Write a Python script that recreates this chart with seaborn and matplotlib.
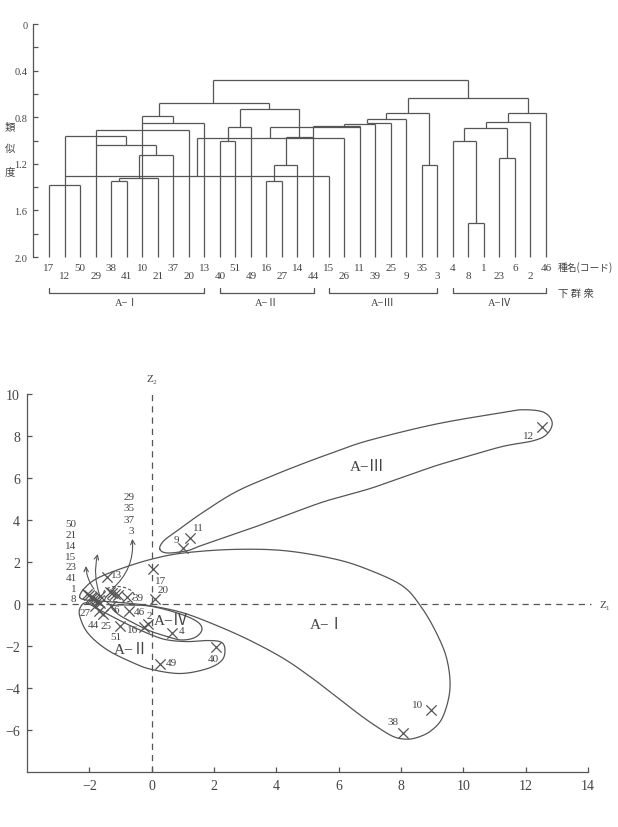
import numpy as np
import pandas as pd
import seaborn as sns
import matplotlib.pyplot as plt
from matplotlib.patches import Ellipse

# ---- dendrogram data (leaf order left to right) ----
leaf_codes = [17, 12, 50, 29, 38, 41, 10, 21, 37, 20, 13,
              40, 51, 49, 16, 27, 14, 44,
              15, 26, 11, 39, 25, 9, 35, 3,
              4, 8, 1, 23, 6, 2, 46]
# height where each leaf stem stops
leaf_top = [1.38, 0.961, 1.38, 0.913, 1.35, 1.35, 0.79, 1.322, 1.121, 0.913, 0.853,
            1.007, 1.007, 0.887, 1.35, 1.35, 1.21, 0.878,
            1.305, 0.981, 0.878, 0.86, 0.852, 0.815, 1.21, 1.21,
            1.007, 1.711, 1.711, 1.147, 1.147, 0.841, 0.764]
# horizontal links: height, from, to (leaf index units)
link_y = [1.38, 0.961, 1.036, 1.35, 1.322, 1.121, 0.913, 0.853, 0.79, 0.675,
          1.305, 0.979, 1.007, 0.887, 0.732, 1.35, 1.21, 0.967, 0.887, 0.878,
          0.86, 0.852, 0.815, 0.764, 1.21, 0.638, 0.481, 1.007, 1.711, 1.147,
          0.893, 0.841, 0.764]
link_x0 = [0, 1, 3, 4, 4.5, 5.82, 3, 6, 6, 7.07,
           1, 9.51, 11, 11.5, 12.28, 14, 14.5, 15.28, 14.25, 17,
           19, 20.45, 20.45, 21.7, 24, 23.1, 10.54, 26, 27, 29,
           26.74, 28.12, 29.58]
link_x1 = [2, 4.98, 6.91, 5, 7, 8, 9, 10, 8, 14.19,
           18, 19, 12, 13, 16.12, 15, 16, 17, 20, 20,
           21, 22, 23, 24.5, 25, 30.82, 26.96, 27.52, 28, 30,
           29.5, 31, 32]
# internal vertical stems: position, lower end, upper end
stem_x = [4.5, 5.82, 6.91, 4.98, 8.0, 7.07, 9.51, 11.5, 12.28, 14.5, 15.28, 16.12,
          14.19, 14.25, 19, 20.45, 21.7, 24.5, 23.1, 30.82, 26.96, 10.54,
          27.52, 29.5, 26.74, 28.12, 29.58]
stem_lo = [1.35, 1.322, 1.121, 1.036, 0.853, 0.79, 1.305, 1.007, 0.887, 1.35, 1.21, 0.967,
           0.732, 0.979, 0.878, 0.852, 0.815, 1.21, 0.764, 0.764, 0.638, 0.675,
           1.711, 1.147, 1.007, 0.893, 0.841]
stem_hi = [1.322, 1.121, 1.036, 0.961, 0.79, 0.675, 0.979, 0.887, 0.732, 1.21, 0.967, 0.732,
           0.675, 0.887, 0.86, 0.815, 0.764, 0.764, 0.638, 0.638, 0.481, 0.481,
           1.007, 0.893, 0.893, 0.841, 0.764]

group_names = ['A−Ⅰ', 'A−Ⅱ', 'A−Ⅲ', 'A−Ⅳ']
group_start = [0, 11, 18, 26]
group_end = [10, 17.05, 25, 32]

# ---- ordination scores ----
codes = ['12', '11', '9', '17', '20', '38', '10', '40', '49', '4', '2', '16',
         '13', '39', '46', '6', '25', '51', '27', '44', '26',
         '50', '21', '14', '15', '23', '41', '1', '8',
         '29', '35', '37', '3']
z1 = [12.54, 1.23, 1.0, 0.05, 0.1, 8.05, 8.97, 2.07, 0.26, 0.64, -0.12, -0.25,
      -1.44, -0.78, -0.74, -1.31, -1.55, -1.01, -1.82, -1.69, -1.66,
      -2.08, -2.01, -1.95, -1.9, -1.85, -1.79, -1.73, -1.66,
      -1.35, -1.26, -1.17, -1.08]
z2 = [8.44, 3.13, 2.68, 1.67, 0.24, -6.14, -5.05, -2.05, -2.86, -1.38, -0.95, -1.1,
      1.27, 0.32, -0.35, -0.08, -0.48, -1.03, -0.08, -0.33, 0.38,
      0.48, 0.41, 0.35, 0.3, 0.25, 0.19, 0.13, 0.06,
      0.56, 0.51, 0.46, 0.42]
# label offsets (points) for the singly labelled species
label_off = {'12': (-10, -6), '11': (6, 8), '9': (-5, 6), '17': (5, -8), '20': (6, 7),
             '38': (-7, 8), '10': (-10, 4), '40': (-2, -8), '49': (8, 1), '4': (7, 2),
             '2': (1, 6), '16': (-8, -2), '13': (7, 2), '39': (8, 0), '46': (8, 0),
             '6': (4, -3), '25': (2, -8), '51': (-3, -8), '27': (-7, -5), '44': (-4, -10)}
stack_a = ['50', '21', '14', '15', '23', '41', '1', '8']
stack_b = ['29', '35', '37', '3']

# group outlines (Z1, Z2), traced round each enclosure
outline_I = [(-2.31, 0.33), (-2.18, 0.71), (-1.79, 1.19), (-1.01, 1.67), (0.01, 2.14),
             (1.03, 2.43), (2.64, 2.60), (4.26, 2.54), (5.88, 2.14), (6.98, 1.62),
             (8.05, 0.86), (8.63, -0.10), (9.12, -1.33), (9.47, -2.62), (9.57, -4.05),
             (9.34, -5.38), (8.95, -6.05), (8.47, -6.38), (8.08, -6.43), (7.72, -6.29),
             (7.24, -5.86), (6.69, -5.29), (5.94, -4.43), (5.14, -3.52), (4.26, -2.62),
             (3.19, -1.76), (2.13, -1.05), (1.03, -0.43), (0.02, -0.10), (-0.85, 0.05),
             (-1.66, 0.14), (-2.11, 0.19)]
outline_II = [(-2.09, 0.05), (-1.66, -0.29), (-0.80, -0.95), (0.01, -1.48), (0.50, -1.71),
              (1.15, -1.79), (1.79, -1.74), (2.22, -1.81), (2.35, -2.14), (2.26, -2.67),
              (1.80, -3.07), (0.93, -3.31), (0.01, -3.12), (-0.58, -2.81), (-1.44, -2.17),
              (-2.05, -1.38), (-2.31, -0.57), (-2.28, -0.14)]
outline_III = [(0.26, 2.62), (0.39, 3.01), (0.82, 3.49), (1.58, 4.30), (2.65, 5.30),
               (3.73, 6.02), (4.81, 6.66), (5.89, 7.25), (6.97, 7.79), (9.13, 8.57),
               (11.28, 9.12), (11.93, 9.25), (12.58, 9.13), (12.85, 8.65), (12.69, 8.10),
               (12.26, 7.78), (11.28, 7.51), (10.21, 7.06), (9.13, 6.59), (8.05, 6.03),
               (6.97, 5.48), (5.46, 4.84), (3.73, 3.89), (2.65, 3.33), (1.58, 2.78),
               (1.15, 2.54), (0.50, 2.43)]
outline_IV = [(-1.27, -0.10), (-0.69, -0.05), (0.02, -0.12), (0.93, -0.48), (1.48, -0.86),
              (1.61, -1.24), (1.38, -1.60), (0.93, -1.71), (0.44, -1.52), (-0.04, -1.29),
              (-0.59, -0.90), (-1.08, -0.48)]


def smooth_closed(pts, n=24):
    p = np.asarray(pts, dtype=float)
    p0, p1, p2, p3 = np.roll(p, 1, 0), p, np.roll(p, -1, 0), np.roll(p, -2, 0)
    t = np.linspace(0, 1, n, endpoint=False)[:, None, None]
    c = 0.5 * (2 * p1 + (p2 - p0) * t + (2 * p0 - 5 * p1 + 4 * p2 - p3) * t ** 2
               + (3 * p1 - p0 - 3 * p2 + p3) * t ** 3)
    c = c.transpose(1, 0, 2).reshape(-1, 2)
    return np.vstack([c, c[:1]])


sns.set_theme(style='white')
plt.rcParams['font.family'] = ['Liberation Serif', 'Noto Sans CJK JP', 'DejaVu Serif']
plt.rcParams['axes.unicode_minus'] = True
ink = '#555555'
txt = '#444444'
cjk = ['Noto Sans CJK JP', 'DejaVu Sans']

fig = plt.figure(figsize=(6.18, 8.28), dpi=100)

# ================= dendrogram =================
ax1 = fig.add_axes([33 / 618, 1 - 258 / 828, 567 / 618, 233 / 828])
n = len(leaf_codes)
idx = np.arange(n)
ax1.vlines(idx, leaf_top, 2.0, color=ink, lw=0.9, clip_on=False)
ax1.hlines(link_y, link_x0, link_x1, color=ink, lw=0.9, clip_on=False)
ax1.vlines(stem_x, stem_lo, stem_hi, color=ink, lw=0.9, clip_on=False)
ax1.set_xlim(-1.03, 35.48)
ax1.set_ylim(2.0, 0)
for s in ['top', 'right', 'bottom']:
    ax1.spines[s].set_visible(False)
ax1.spines['left'].set_color(ink)
ax1.spines['left'].set_linewidth(0.9)
ax1.set_yticks([0, 0.4, 0.8, 1.2, 1.6, 2.0])
ax1.set_yticklabels(['0', '0.4', '0.8', '1.2', '1.6', '2.0'])
ax1.set_yticks([0.2, 0.6, 1.0, 1.4, 1.8], minor=True)
ax1.tick_params(axis='y', which='both', direction='in', length=3.5, width=0.9,
                color=ink, labelcolor=txt, labelsize=7.5, pad=4, left=True)
ax1.set_xticks([])
for i, c in enumerate(leaf_codes):
    ax1.text(i, 2.086 if i % 2 == 0 else 2.163, str(c), ha='center', va='center',
             fontsize=8, color=txt, clip_on=False)
for g, a, b in zip(group_names, group_start, group_end):
    ax1.plot([a, a, b, b], [2.266, 2.309, 2.309, 2.266], color=ink, lw=0.9, clip_on=False)
    ax1.text((a + b) / 2, 2.39, g, ha='center', va='center', fontsize=7.5, color=txt)
ax1.text(32.75, 2.086, '種名(コード)', ha='left', va='center', fontsize=7, color=txt,
         family=cjk)
ax1.text(32.8, 2.309, '下 群 衆', ha='left', va='center', fontsize=7.5, color=txt,
         family=cjk)
for ch, py in zip('類似度', [127, 149, 172]):
    fig.text(10 / 618, 1 - py / 828, ch, ha='center', va='center', fontsize=7.5,
             color=txt, family=cjk)

# ================= ordination =================
ax2 = fig.add_axes([27 / 618, 1 - 773 / 828, 561 / 618, 378 / 828])
df = pd.DataFrame({'code': codes, 'Z1': z1, 'Z2': z2})
sns.scatterplot(data=df, x='Z1', y='Z2', marker='x', s=55, color=ink, linewidth=0.9,
                ax=ax2, zorder=3, legend=False)
ax2.set_xlim(-4, 14)
ax2.set_ylim(-8, 10)
ax2.set_xlabel('')
ax2.set_ylabel('')
for s in ['top', 'right']:
    ax2.spines[s].set_visible(False)
for s in ['left', 'bottom']:
    ax2.spines[s].set_color(ink)
    ax2.spines[s].set_linewidth(0.9)
ax2.set_xticks(np.arange(-2, 15, 2))
ax2.set_yticks(np.arange(-6, 11, 2))
ax2.tick_params(direction='in', length=3.5, width=0.9, color=ink, labelcolor=txt,
                labelsize=10, pad=5, left=True, bottom=True)

ax2.hlines(0, -4, 14.1, color=ink, lw=0.9, linestyles=(0, (5, 4)), clip_on=False)
ax2.vlines(0, -8, 10, color=ink, lw=0.9, linestyles=(0, (5, 4)))
ax2.text(0, 10.75, 'Z₂', ha='center', va='center', fontsize=8, color=txt, clip_on=False)
ax2.text(14.55, 0, 'Z₁', ha='center', va='center', fontsize=8, color=txt, clip_on=False)

for pts in [outline_I, outline_II, outline_III, outline_IV]:
    c = smooth_closed(pts)
    ax2.plot(c[:, 0], c[:, 1], color=ink, lw=0.9)
ax2.add_patch(Ellipse((-1.05, 0.45), 1.0, 0.75, angle=-15, fill=False, ec=ink,
                      lw=0.8, ls=(0, (3, 2))))

for c, x, y in zip(codes, z1, z2):
    if c in label_off:
        ax2.annotate(c, (x, y), xytext=label_off[c], textcoords='offset points',
                     ha='center', va='center', fontsize=8, color=txt)

for k, c in enumerate(stack_a):
    ax2.text(-2.41, 3.81 - 0.51 * k, c, ha='right', va='center', fontsize=8, color=txt)
for k, c in enumerate(stack_b):
    ax2.text(-0.56, 5.13 - 0.55 * k, c, ha='right', va='center', fontsize=8, color=txt)

arrow = dict(arrowstyle='->', lw=0.8, color=ink, shrinkA=0, shrinkB=0,
             mutation_scale=8)
ax2.annotate('', xy=(-2.11, 1.81), xytext=(-1.85, 0.71),
             arrowprops=dict(arrow, connectionstyle='arc3,rad=-0.15'))
ax2.annotate('', xy=(-1.73, 2.38), xytext=(-1.66, 0.38),
             arrowprops=dict(arrow, connectionstyle='arc3,rad=-0.15'))
ax2.annotate('', xy=(-0.62, 3.10), xytext=(-1.27, 0.71),
             arrowprops=dict(arrow, connectionstyle='arc3,rad=0.25'))

ax2.text(6.92, 6.57, 'A−Ⅲ', ha='center', va='center', fontsize=11, color=txt)
ax2.text(5.62, -0.98, 'A−Ⅰ', ha='center', va='center', fontsize=11, color=txt)
ax2.text(0.62, -0.8, 'A−Ⅳ', ha='center', va='center', fontsize=11, color=txt)
ax2.text(-0.66, -2.19, 'A−Ⅱ', ha='center', va='center', fontsize=11, color=txt)

fig.savefig('out.png', dpi=100, facecolor='white')
